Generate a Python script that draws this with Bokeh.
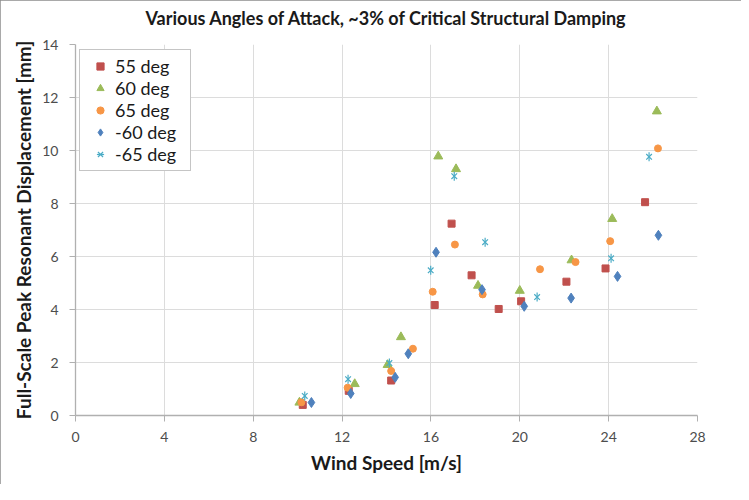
import math
from bokeh.plotting import figure
from bokeh.models import Range1d, FixedTicker, Legend, LegendItem, Title
from bokeh.embed import file_html
from bokeh.resources import INLINE

# ---- data ----
x_55 = [10.23, 12.30, 14.21, 16.17, 16.93, 17.83, 19.05, 20.06, 22.10, 23.86, 25.64]
y_55 = [0.40, 0.93, 1.32, 4.17, 7.24, 5.29, 4.02, 4.31, 5.05, 5.55, 8.05]

x_60 = [10.08, 12.57, 14.05, 14.65, 16.33, 17.13, 18.12, 20.00, 22.33, 24.16, 26.17]
y_60 = [0.49, 1.19, 1.91, 2.96, 9.78, 9.30, 4.90, 4.71, 5.86, 7.42, 11.48]

x_65 = [10.17, 12.25, 14.21, 15.19, 16.08, 17.08, 18.33, 20.91, 22.51, 24.07, 26.22]
y_65 = [0.50, 1.05, 1.68, 2.52, 4.67, 6.45, 4.57, 5.52, 5.79, 6.58, 10.08]

x_m60 = [10.62, 12.39, 14.39, 14.98, 16.23, 18.30, 20.20, 22.31, 24.40, 26.24]
y_m60 = [0.49, 0.83, 1.44, 2.33, 6.16, 4.75, 4.12, 4.43, 5.25, 6.80]

x_m65 = [10.32, 12.27, 14.13, 15.99, 17.05, 18.44, 20.78, 24.11, 25.82]
y_m65 = [0.74, 1.37, 1.98, 5.48, 9.03, 6.54, 4.47, 5.93, 9.76]

x_ticks = [0, 4, 8, 12, 16, 20, 24, 28]
y_ticks = [0, 2, 4, 6, 8, 10, 12, 14]
series_names = ["55 deg", "60 deg", "65 deg", "-60 deg", "-65 deg"]
title_text = "Various Angles of Attack, ~3% of Critical Structural Damping"
x_label = "Wind Speed [m/s]"
y_label = "Full-Scale Peak Resonant Displacement [mm]"

FONT = "Lato"

p = figure(
    output_backend="svg", toolbar_location=None,
    frame_width=622, frame_height=371,
    min_border_left=75, min_border_right=44, min_border_top=44, min_border_bottom=69,
    x_range=Range1d(0, 28), y_range=Range1d(0, 14),
    title=title_text,
)
p.styles = {"outline": "2px solid #8c8c8c", "outline-offset": "-2px"}
p.background_fill_color = "white"
p.border_fill_color = "white"
p.outline_line_color = None

p.title.align = "center"
p.title.text_font = FONT
p.title.text_font_size = "18px"
p.title.text_font_style = "bold"
p.title.text_color = "#1a1a1a"
p.title.standoff = 0
# blank spacer between the title and the plot area
p.add_layout(Title(text=" ", text_font_size="2px", standoff=12), "above")

for ax, ticks in ((p.xaxis[0], x_ticks), (p.yaxis[0], y_ticks)):
    ax.ticker = FixedTicker(ticks=ticks)
    ax.minor_tick_line_color = None
    ax.major_tick_in = 0
    ax.major_tick_out = 6
    ax.major_tick_line_color = "#b0b0b0"
    ax.axis_line_color = "#b0b0b0"
    ax.axis_line_width = 1.3
    ax.major_label_text_font = FONT
    ax.major_label_text_font_size = "14px"
    ax.major_label_text_color = "#4d4d4d"
    ax.axis_label_text_font = FONT
    ax.axis_label_text_font_size = "19px"
    ax.axis_label_text_font_style = "bold"
    ax.axis_label_text_color = "#1a1a1a"

p.xaxis.axis_label = x_label
p.yaxis.axis_label = y_label
p.xaxis.major_label_standoff = 10
p.xaxis.axis_label_standoff = 6
p.yaxis.major_label_standoff = 11
p.yaxis.axis_label_standoff = 4

p.xgrid.ticker = FixedTicker(ticks=x_ticks)
p.ygrid.ticker = FixedTicker(ticks=y_ticks)
p.xgrid.grid_line_color = "#dcdcdc"
p.ygrid.grid_line_color = "#dcdcdc"

r55 = p.scatter(x_55, y_55, marker="square", size=7, fill_color="#C0504D", line_color="#C0504D")
r60 = p.scatter(x_60, y_60, marker="triangle", size=9, fill_color="#9BBB59", line_color="#9BBB59")
r65 = p.scatter(x_65, y_65, marker="circle", size=7, fill_color="#F79646", line_color="#F79646")
rm60 = p.scatter(x_m60, y_m60, marker="diamond", size=10, fill_color="#4F81BD", line_color="#4F81BD")
rm65a = p.scatter(x_m65, y_m65, marker="x", size=8, line_color="#4BACC6", line_width=1.2)
rm65b = p.scatter(x_m65, y_m65, marker="dash", size=9, angle=math.pi / 2, line_color="#4BACC6", line_width=1.2)

legend = Legend(
    items=[
        LegendItem(label=series_names[0], renderers=[r55]),
        LegendItem(label=series_names[1], renderers=[r60]),
        LegendItem(label=series_names[2], renderers=[r65]),
        LegendItem(label=series_names[3], renderers=[rm60]),
        LegendItem(label=series_names[4], renderers=[rm65a, rm65b]),
    ],
    location=(4, 244),
    margin=0,
    padding=5,
    spacing=0,
    glyph_width=30,
    glyph_height=18,
    label_standoff=0,
    label_width=70,
    label_text_font=FONT,
    label_text_font_size="18px",
    label_text_color="#1a1a1a",
    border_line_color="#8c8c8c",
    border_line_width=1.2,
    background_fill_color="white",
    background_fill_alpha=1.0,
)
p.add_layout(legend)

open("out.html", "w").write(file_html(p, INLINE))
